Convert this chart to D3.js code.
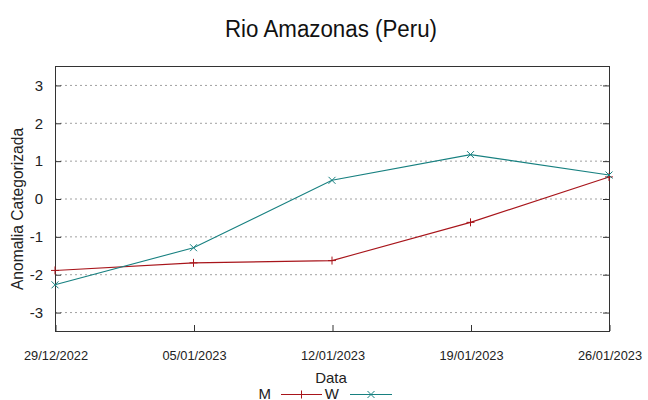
<!DOCTYPE html>
<html>
<head>
<meta charset="utf-8">
<script src="https://cdn.jsdelivr.net/npm/d3@7"></script>
<style>
  html, body { margin: 0; padding: 0; background: #fff; }
  svg { display: block; font-family: "Liberation Sans", Arial, sans-serif; }
</style>
</head>
<body>
<svg id="chart" width="648" height="400"></svg>
<script>
// Weekly categorised anomaly, Rio Amazonas (Peru)
const dates = ["29/12/2022", "05/01/2023", "12/01/2023", "19/01/2023", "26/01/2023"];
const seriesM = [-1.90, -1.70, -1.64, -0.63, 0.57];
const seriesW = [-2.28, -1.30, 0.48, 1.16, 0.62];
const yTicks = [-3, -2, -1, 0, 1, 2, 3];

const svg = d3.select("#chart");
const margin = { left: 55, right: 39, top: 66, bottom: 69 };
const W = 648, H = 400;
const x = d3.scalePoint().domain(dates).range([margin.left, W - margin.right]);
const y = d3.scaleLinear().domain([-3.5, 3.5]).range([H - margin.bottom, margin.top]);

// grid
svg.append("g").selectAll("line").data(yTicks).join("line")
  .attr("x1", margin.left).attr("x2", W - margin.right)
  .attr("y1", d => y(d) + 0.5).attr("y2", d => y(d) + 0.5)
  .attr("stroke", "#a0a0a0").attr("stroke-width", 1).attr("stroke-dasharray", "2,3");

// left axis
const yAxis = d3.axisLeft(y).tickValues(yTicks).tickSize(-6).tickPadding(12)
  .tickFormat(d => String(d));
svg.append("g").attr("transform", `translate(${margin.left},0.5)`).call(yAxis)
  .call(g => g.select(".domain").remove())
  .call(g => g.selectAll("text").attr("font-size", 15).attr("fill", "#222"))
  .call(g => g.selectAll("line").attr("stroke", "#333"));
// mirrored ticks on the right
svg.append("g").attr("transform", `translate(${W - margin.right},0.5)`)
  .call(d3.axisRight(y).tickValues(yTicks).tickSize(-6).tickFormat(""))
  .call(g => g.select(".domain").remove())
  .call(g => g.selectAll("line").attr("stroke", "#333"));

// bottom axis
const xAxis = d3.axisBottom(x).tickSize(-6).tickPadding(20);
svg.append("g").attr("transform", `translate(0.5,${H - margin.bottom})`).call(xAxis)
  .call(g => g.select(".domain").remove())
  .call(g => g.selectAll("text").attr("font-size", 12.8).attr("fill", "#222"))
  .call(g => g.selectAll("line").attr("stroke", "#333"));

// border
svg.append("rect")
  .attr("x", margin.left + 0.5).attr("y", margin.top + 0.5)
  .attr("width", W - margin.left - margin.right).attr("height", H - margin.top - margin.bottom)
  .attr("fill", "none").attr("stroke", "#333").attr("stroke-width", 1);

const colM = "#a8151b", colW = "#178080";
const line = d3.line().x((d, i) => x(dates[i])).y(d => y(d));

function plus(g, cx, cy, c) {
  g.append("path").attr("d", `M${cx - 4},${cy}h8M${cx},${cy - 4}v8`).attr("stroke", c).attr("stroke-width", 1);
}
function cross(g, cx, cy, c) {
  g.append("path").attr("d", `M${cx - 3.5},${cy - 3.5}l7,7M${cx - 3.5},${cy + 3.5}l7,-7`).attr("stroke", c).attr("stroke-width", 1);
}

const gM = svg.append("g");
gM.append("path").datum(seriesM).attr("d", line).attr("fill", "none").attr("stroke", colM).attr("stroke-width", 1.1);
seriesM.forEach((v, i) => plus(gM, x(dates[i]), y(v), colM));

const gW = svg.append("g");
gW.append("path").datum(seriesW).attr("d", line).attr("fill", "none").attr("stroke", colW).attr("stroke-width", 1.1);
seriesW.forEach((v, i) => cross(gW, x(dates[i]), y(v), colW));

// title & axis labels
svg.append("text").attr("x", 331).attr("y", 37).attr("text-anchor", "middle")
  .attr("font-size", 23).attr("fill", "#111")
  .attr("textLength", 212).attr("lengthAdjust", "spacingAndGlyphs")
  .text("Rio Amazonas (Peru)");
svg.append("text").attr("x", 331).attr("y", 383).attr("text-anchor", "middle")
  .attr("font-size", 15).attr("fill", "#222").text("Data");
svg.append("text").attr("transform", "translate(23,209) rotate(-90)").attr("text-anchor", "middle")
  .attr("font-size", 15.6).attr("fill", "#222").text("Anomalia Categorizada");

// legend
const lg = svg.append("g");
lg.append("text").attr("x", 271).attr("y", 398.5).attr("text-anchor", "end").attr("font-size", 15).attr("fill", "#222").text("M");
lg.append("line").attr("x1", 281).attr("x2", 322).attr("y1", 394.5).attr("y2", 394.5).attr("stroke", colM).attr("stroke-width", 1.1);
plus(lg, 301.5, 394.5, colM);
lg.append("text").attr("x", 339).attr("y", 398.5).attr("text-anchor", "end").attr("font-size", 15).attr("fill", "#222").text("W");
lg.append("line").attr("x1", 350).attr("x2", 392).attr("y1", 394.5).attr("y2", 394.5).attr("stroke", colW).attr("stroke-width", 1.1);
cross(lg, 371, 394.5, colW);
</script>
</body>
</html>
